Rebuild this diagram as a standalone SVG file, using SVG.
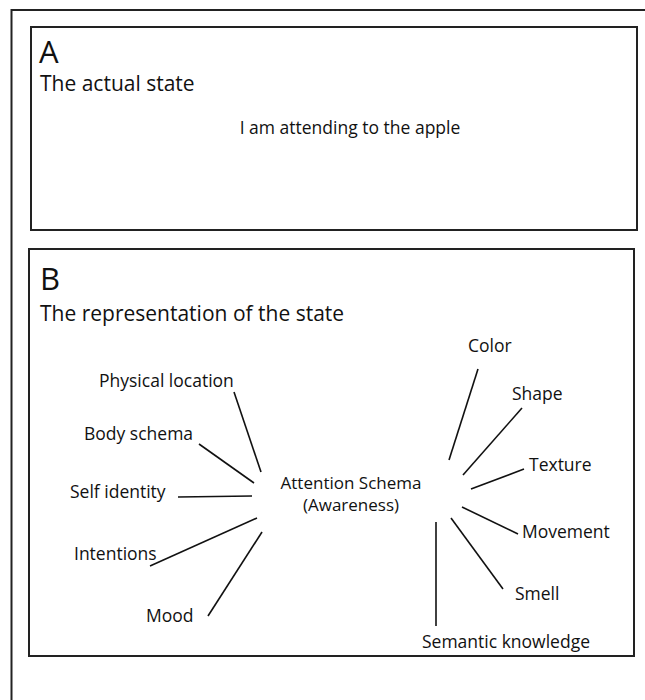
<svg xmlns="http://www.w3.org/2000/svg" width="645" height="700" viewBox="0 0 645 700">
<style>
.frame{fill:none;stroke:#222;stroke-width:2}
.outer{fill:none;stroke:#222;stroke-width:2}
.t{font-family:"Open Sans","Noto Sans","Liberation Sans",sans-serif;fill:#111}
.big{font-size:31px}
.h{font-size:21px}
.l{font-size:17.5px}
.m{font-size:17px}
.c{text-anchor:middle}
.edge{stroke:#111;stroke-width:1.6;fill:none}
</style>
<rect width="645" height="700" fill="#fff"/>
<rect class="outer" x="11.5" y="10" width="660" height="720"/>
<g id="panelA">
<rect class="frame" x="31" y="27" width="606" height="203"/>
<text class="t big" x="39" y="63">A</text>
<text class="t h" x="40" y="91">The actual state</text>
<text class="t l c" x="350" y="134">I am attending to the apple</text>
</g>
<g id="panelB">
<rect class="frame" x="29" y="249" width="605" height="407"/>
<text class="t big" x="40" y="290">B</text>
<text class="t h" x="40" y="321">The representation of the state</text>
</g>
<g id="center"><text class="t m c" x="351" y="489">Attention Schema</text><text class="t m c" x="351" y="511">(Awareness)</text></g>
<g id="physical"><text class="t l" x="99" y="387">Physical location</text></g>
<g id="body"><text class="t l" x="84" y="440">Body schema</text></g>
<g id="self"><text class="t l" x="70" y="498">Self identity</text></g>
<g id="intentions"><text class="t l" x="74" y="560">Intentions</text></g>
<g id="mood"><text class="t l" x="146" y="622">Mood</text></g>
<g id="color"><text class="t l" x="468" y="352">Color</text></g>
<g id="shape"><text class="t l" x="512" y="400">Shape</text></g>
<g id="texture"><text class="t l" x="529" y="471">Texture</text></g>
<g id="movement"><text class="t l" x="522" y="538">Movement</text></g>
<g id="smell"><text class="t l" x="515" y="600">Smell</text></g>
<g id="semantic"><text class="t l" x="422" y="648">Semantic knowledge</text></g>
<g id="connectors">
<line class="edge" x1="234" y1="392" x2="261" y2="472"/>
<line class="edge" x1="199" y1="444" x2="254" y2="483"/>
<line class="edge" x1="178" y1="497" x2="252" y2="496"/>
<line class="edge" x1="150" y1="566" x2="257" y2="518"/>
<line class="edge" x1="208" y1="616" x2="262" y2="532"/>
<line class="edge" x1="478" y1="369" x2="449" y2="460"/>
<line class="edge" x1="522" y1="408" x2="463" y2="475"/>
<line class="edge" x1="524" y1="469" x2="471" y2="489"/>
<line class="edge" x1="462" y1="507" x2="518" y2="534"/>
<line class="edge" x1="451" y1="518" x2="503" y2="589"/>
<line class="edge" x1="436" y1="522" x2="436" y2="626"/>
</g>
</svg>
